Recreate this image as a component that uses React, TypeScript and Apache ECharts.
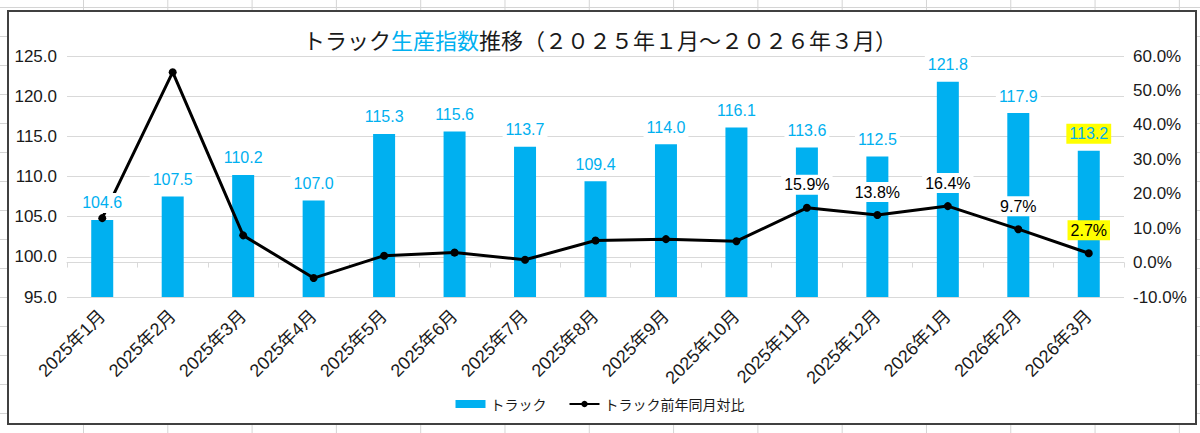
import React, { useEffect, useRef } from "react";
import * as echarts from "echarts";

const categories = [
  "2025年1月", "2025年2月", "2025年3月", "2025年4月", "2025年5月",
  "2025年6月", "2025年7月", "2025年8月", "2025年9月", "2025年10月",
  "2025年11月", "2025年12月", "2026年1月", "2026年2月", "2026年3月",
];
const productionIndex = [104.6, 107.5, 110.2, 107.0, 115.3, 115.6, 113.7, 109.4, 114.0, 116.1, 113.6, 112.5, 121.8, 117.9, 113.2];
const yoyPercent = [12.9, 55.3, 7.9, -4.5, 2.0, 2.9, 0.8, 6.4, 6.8, 6.2, 15.9, 13.8, 16.4, 9.7, 2.7];
const yoyLabelFrom = 10;
const highlightIndex = 14;

const FONT = "'Liberation Sans', 'Noto Sans CJK JP', sans-serif";
const CJK = "'Noto Sans CJK JP', sans-serif";
const BLUE = "#00B0F0";

export default function App() {
  const ref = useRef<HTMLDivElement>(null);

  useEffect(() => {
    document.body.style.margin = "0";
    const chart = echarts.init(ref.current!, undefined, { renderer: "svg" });
    const barLabelData = productionIndex.map((v, i) =>
      i === highlightIndex
        ? { value: v, label: { backgroundColor: "#FFFF00" } }
        : v
    );
    const lineData = yoyPercent.map((v, i) => ({
      value: v,
      label: {
        show: i >= yoyLabelFrom,
        backgroundColor: i === highlightIndex ? "#FFFF00" : "#ffffff",
      },
    }));
    chart.setOption({
      animation: false,
      textStyle: { fontFamily: FONT },
      title: {
        left: "center",
        top: 23,
        text: "{a|トラック}{b|生産指数}{a|推移（２０２５年１月～２０２６年３月）}",
        textStyle: {
          rich: {
            a: { fontSize: 22, fontWeight: "normal", color: "#1a1a1a", fontFamily: CJK },
            b: { fontSize: 22, fontWeight: "normal", color: BLUE, fontFamily: CJK },
          },
        },
      },
      legend: {
        top: 392,
        left: "center",
        itemWidth: 30,
        itemHeight: 8,
        itemGap: 22,
        textStyle: { fontSize: 14, color: "#1a1a1a", fontFamily: CJK },
        data: [
          { name: "トラック", icon: "rect" },
          { name: "トラック前年同月対比" },
        ],
      },
      grid: { left: 67, right: 76, top: 56, bottom: 136 },
      xAxis: {
        type: "category",
        data: categories,
        axisLine: { lineStyle: { color: "#d9d9d9" } },
        axisTick: { show: true, alignWithLabel: false, length: 5, lineStyle: { color: "#d9d9d9" } },
        axisLabel: { rotate: 45, fontSize: 18, color: "#1a1a1a", margin: 16, interval: 0 },
      },
      yAxis: [
        {
          type: "value",
          min: 95,
          max: 125,
          interval: 5,
          axisLine: { show: false },
          axisTick: { show: false },
          splitLine: { lineStyle: { color: "#d9d9d9" } },
          axisLabel: { fontSize: 17, color: "#1a1a1a", margin: 10, formatter: (v: number) => v.toFixed(1) },
        },
        {
          type: "value",
          min: -10,
          max: 60,
          interval: 10,
          axisLine: { show: false },
          axisTick: { show: false },
          splitLine: { show: false },
          axisLabel: { fontSize: 17, color: "#1a1a1a", margin: 9, formatter: (v: number) => v.toFixed(1) + "%" },
        },
      ],
      series: [
        {
          name: "トラック",
          type: "bar",
          data: productionIndex,
          barWidth: 22,
          itemStyle: { color: BLUE },
          z: 2,
        },
        {
          name: "トラック前年同月対比",
          type: "line",
          yAxisIndex: 1,
          data: lineData,
          symbol: "circle",
          symbolSize: 8,
          lineStyle: { color: "#000000", width: 3 },
          itemStyle: { color: "#000000" },
          label: {
            position: "top",
            distance: 9,
            fontSize: 16,
            color: "#000000",
            padding: [2, 3],
            formatter: (p: any) => Number(p.value).toFixed(1) + "%",
          },
          z: 3,
        },
        {
          name: "トラックラベル",
          type: "bar",
          data: barLabelData,
          barWidth: 22,
          barGap: "-100%",
          silent: true,
          itemStyle: { color: "rgba(0,0,0,0)" },
          label: {
            show: true,
            position: "top",
            distance: 7,
            fontSize: 16,
            color: BLUE,
            backgroundColor: "#ffffff",
            padding: [2, 3],
            formatter: (p: any) => Number(p.value).toFixed(1),
          },
          z: 4,
        },
      ],
    });
    return () => chart.dispose();
  }, []);

  return (
    <div
      style={{
        position: "fixed",
        left: 0,
        top: 0,
        width: 1200,
        height: 433,
        backgroundColor: "#ffffff",
        backgroundImage:
          "linear-gradient(to right, #d4d4d4 1px, transparent 1px), linear-gradient(to bottom, #d4d4d4 1px, transparent 1px)",
        backgroundSize: "84.3px 29px",
        backgroundPosition: "-1.3px 7px",
        overflow: "hidden",
      }}
    >
      <div
        style={{
          position: "absolute",
          left: 7,
          top: 10,
          width: 1190,
          height: 415,
          boxSizing: "border-box",
          border: "2px solid #404040",
          background: "#ffffff",
        }}
      />
      <div ref={ref} style={{ position: "absolute", left: 0, top: 0, width: 1200, height: 433 }} />
    </div>
  );
}
